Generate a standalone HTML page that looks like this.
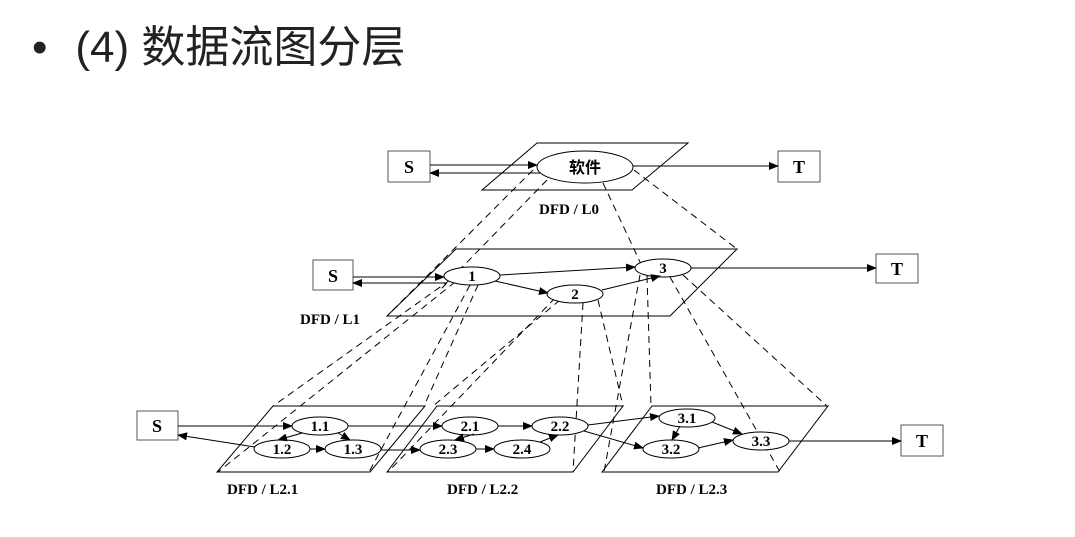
<!DOCTYPE html>
<html><head><meta charset="utf-8"><style>
html,body{margin:0;padding:0;background:#fff;width:1075px;height:537px;overflow:hidden}
.t{position:absolute;left:32px;top:20px;font-family:"Liberation Sans","Noto Sans CJK SC",sans-serif;font-size:44px;line-height:56px;color:#222;white-space:nowrap}
svg{position:absolute;left:0;top:0}
text{font-family:"Liberation Serif","Noto Serif CJK SC",serif;font-weight:bold;fill:#000}
</style></head><body>
<div class="t"><span>•</span><span style="margin-left:28px">(4) 数据流图分层</span></div>
<svg width="1075" height="537" viewBox="0 0 1075 537">
<defs><marker id="a" markerWidth="10" markerHeight="8" refX="9" refY="4" orient="auto" markerUnits="userSpaceOnUse"><path d="M0,0 L10,4 L0,8z" fill="#000"/></marker></defs>
<g fill="none" stroke="#000" stroke-width="1">
<polygon points="537,143 688,143 632,190 482,190"/>
<polygon points="456,249 737,249 670,316 387,316"/>
<polygon points="273,406 425,406 370,472 217,472"/>
<polygon points="437,406 623,406 573,472 387,472"/>
<polygon points="652,406 828,406 778,472 602,472"/>
<g stroke-dasharray="7,5">
<line x1="533" y1="170" x2="387" y2="316"/>
<line x1="547" y1="180" x2="440" y2="290"/>
<line x1="603" y1="183" x2="641" y2="264"/>
<line x1="634" y1="170" x2="737" y2="249"/>
<line x1="455" y1="282" x2="218" y2="472"/>
<line x1="450" y1="280" x2="273" y2="406"/>
<line x1="470" y1="285" x2="369" y2="472"/>
<line x1="478" y1="285" x2="424" y2="406"/>
<line x1="555" y1="298" x2="388" y2="472"/>
<line x1="560" y1="300" x2="433" y2="406"/>
<line x1="583" y1="303" x2="573" y2="472"/>
<line x1="598" y1="300" x2="623" y2="406"/>
<line x1="640" y1="275" x2="604" y2="472"/>
<line x1="647" y1="276" x2="651" y2="406"/>
<line x1="670" y1="277" x2="780" y2="472"/>
<line x1="683" y1="275" x2="827" y2="406"/>
</g>
<g fill="#fff" stroke="#555">
<rect x="388" y="151" width="42" height="31"/>
<rect x="778" y="151" width="42" height="31"/>
<rect x="313" y="260" width="40" height="30"/>
<rect x="876" y="254" width="42" height="29"/>
<rect x="137" y="411" width="41" height="29"/>
<rect x="901" y="425" width="42" height="31"/>
</g>
<g fill="#fff">
<ellipse cx="585" cy="167" rx="48" ry="16"/>
<ellipse cx="472" cy="276" rx="28" ry="9"/>
<ellipse cx="575" cy="294" rx="28" ry="9"/>
<ellipse cx="663" cy="268" rx="28" ry="9"/>
<ellipse cx="320" cy="426" rx="28" ry="9"/>
<ellipse cx="282" cy="449" rx="28" ry="9"/>
<ellipse cx="353" cy="449" rx="28" ry="9"/>
<ellipse cx="470" cy="426" rx="28" ry="9"/>
<ellipse cx="560" cy="426" rx="28" ry="9"/>
<ellipse cx="448" cy="449" rx="28" ry="9"/>
<ellipse cx="522" cy="449" rx="28" ry="9"/>
<ellipse cx="687" cy="418" rx="28" ry="9"/>
<ellipse cx="671" cy="449" rx="28" ry="9"/>
<ellipse cx="761" cy="441" rx="28" ry="9"/>
</g>
<g marker-end="url(#a)">
<line x1="430" y1="165" x2="537" y2="165"/>
<line x1="540" y1="173" x2="430" y2="173"/>
<line x1="633" y1="166" x2="778" y2="166"/>
<line x1="353" y1="277" x2="444" y2="277"/>
<line x1="446" y1="283" x2="353" y2="283"/>
<line x1="500" y1="275" x2="635" y2="267"/>
<line x1="495" y1="281" x2="548" y2="293"/>
<line x1="602" y1="290" x2="660" y2="276"/>
<line x1="691" y1="268" x2="876" y2="268"/>
<line x1="178" y1="426" x2="292" y2="426"/>
<line x1="255" y1="447" x2="178" y2="435"/>
<line x1="302" y1="433" x2="278" y2="440"/>
<line x1="338" y1="433" x2="350" y2="440"/>
<line x1="310" y1="449" x2="325" y2="449"/>
<line x1="381" y1="450" x2="420" y2="450"/>
<line x1="348" y1="426" x2="442" y2="426"/>
<line x1="498" y1="426" x2="532" y2="426"/>
<line x1="476" y1="449" x2="494" y2="449"/>
<line x1="474" y1="434" x2="455" y2="440"/>
<line x1="540" y1="442" x2="558" y2="435"/>
<line x1="588" y1="425" x2="659" y2="416"/>
<line x1="584" y1="431" x2="643" y2="448"/>
<line x1="680" y1="426" x2="672" y2="440"/>
<line x1="712" y1="422" x2="742" y2="434"/>
<line x1="698" y1="448" x2="733" y2="440"/>
<line x1="789" y1="441" x2="901" y2="441"/>
</g>
</g>
<g font-size="18" text-anchor="middle">
<text x="409" y="173">S</text><text x="799" y="173">T</text>
<text x="333" y="282">S</text><text x="897" y="275">T</text>
<text x="157" y="432">S</text><text x="922" y="447">T</text>
</g>
<text x="585" y="173" font-size="16" text-anchor="middle" style="font-family:'Noto Sans CJK SC',sans-serif">软件</text>
<g font-size="15" text-anchor="middle" style="font-weight:normal">
<text x="472" y="281">1</text><text x="575" y="299">2</text><text x="663" y="273">3</text>
<text x="320" y="431">1.1</text><text x="282" y="454">1.2</text><text x="353" y="454">1.3</text>
<text x="470" y="431">2.1</text><text x="560" y="431">2.2</text><text x="448" y="454">2.3</text><text x="522" y="454">2.4</text>
<text x="687" y="423">3.1</text><text x="671" y="454">3.2</text><text x="761" y="446">3.3</text>
</g>
<g font-size="15">
<text x="539" y="214">DFD / L0</text>
<text x="300" y="324">DFD / L1</text>
<text x="227" y="494">DFD / L2.1</text>
<text x="447" y="494">DFD / L2.2</text>
<text x="656" y="494">DFD / L2.3</text>
</g>
</svg>
</body></html>
